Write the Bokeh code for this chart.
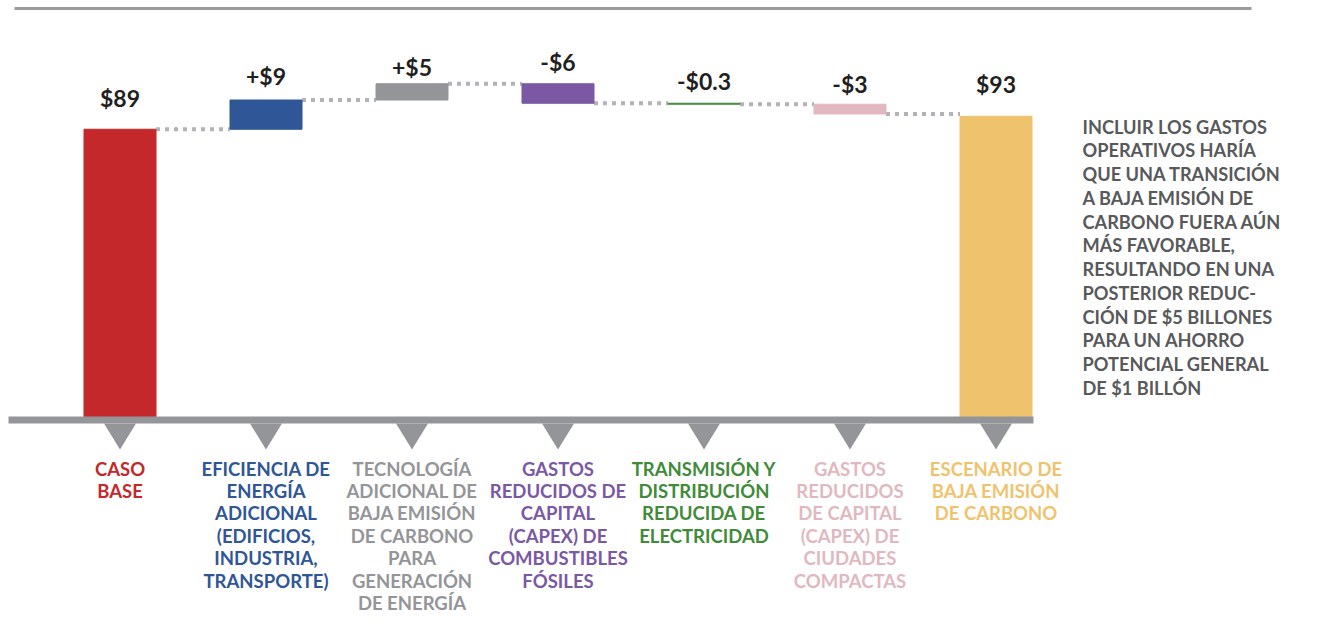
from bokeh.plotting import figure
from bokeh.models import Range1d, ColumnDataSource
from bokeh.embed import file_html
from bokeh.resources import INLINE
from bokeh.core.properties import value

# ---------------- data ----------------
categories = [
    "CASO\nBASE",
    "EFICIENCIA DE\nENERGÍA\nADICIONAL\n(EDIFICIOS,\nINDUSTRIA,\nTRANSPORTE)",
    "TECNOLOGÍA\nADICIONAL DE\nBAJA EMISIÓN\nDE CARBONO\nPARA\nGENERACIÓN\nDE ENERGÍA",
    "GASTOS\nREDUCIDOS DE\nCAPITAL\n(CAPEX) DE\nCOMBUSTIBLES\nFÓSILES",
    "TRANSMISIÓN Y\nDISTRIBUCIÓN\nREDUCIDA DE\nELECTRICIDAD",
    "GASTOS\nREDUCIDOS\nDE CAPITAL\n(CAPEX) DE\nCIUDADES\nCOMPACTAS",
    "ESCENARIO DE\nBAJA EMISIÓN\nDE CARBONO",
]
amounts = [89, 9, 5, -6, -0.3, -3, 93]
is_total = [True, False, False, False, False, False, True]
value_labels = ["$89", "+$9", "+$5", "-$6", "-$0.3", "-$3", "$93"]
colors = ["#C4282A", "#2F5697", "#949598", "#7A58A4", "#3F8B3A", "#E1B8BF", "#EFC36E"]
note_lines = [
    "INCLUIR LOS GASTOS",
    "OPERATIVOS HARÍA",
    "QUE UNA TRANSICIÓN",
    "A BAJA EMISIÓN DE",
    "CARBONO FUERA AÚN",
    "MÁS FAVORABLE,",
    "RESULTANDO EN UNA",
    "POSTERIOR REDUC-",
    "CIÓN DE $5 BILLONES",
    "PARA UN AHORRO",
    "POTENCIAL GENERAL",
    "DE $1 BILLÓN",
]

# ---------------- layout / style ----------------
W, H = 1343, 626
PX_PER_CAT = 146.0
X0_PX = 119.5           # pixel of first category centre
PX_PER_UNIT = 3.25
Y0_PX = 418.0           # pixel of value 0
label_gap_px = [31, 24, 17, 22, 22, 20, 32]

def px_x(px):
    return (px - X0_PX) / PX_PER_CAT

def px_y(py):
    return (Y0_PX - py) / PX_PER_UNIT

p = figure(width=W, height=H, output_backend="svg", toolbar_location=None,
           x_range=Range1d(px_x(0), px_x(W)), y_range=Range1d(px_y(H), px_y(0)),
           min_border=0, min_border_left=0, min_border_right=0,
           min_border_top=0, min_border_bottom=0)
p.axis.visible = False
p.grid.visible = False
p.outline_line_color = None
p.background_fill_color = "white"
p.border_fill_color = "white"

# waterfall geometry
xs = list(range(len(amounts)))
bottoms, tops, levels = [], [], []
running = 0.0
for a, tot in zip(amounts, is_total):
    if tot:
        b, t = 0.0, a
        running = a
    else:
        b, t = running, running + a
        running = running + a
    bottoms.append(min(b, t))
    tops.append(max(b, t))
    levels.append(running)

bw = 72 / PX_PER_CAT
src = ColumnDataSource(dict(x=xs, bottom=bottoms, top=tops, color=colors,
                            lab=value_labels, cat=categories,
                            gap=[-g for g in label_gap_px]))

# connectors
cx0 = [i + bw / 2 for i in xs[:-1]]
cx1 = [i + 1 - bw / 2 for i in xs[:-1]]
cy = levels[:-1]
p.segment(x0=cx0, y0=cy, x1=cx1, y1=cy, line_color="#B1B3B6", line_width=4,
          line_dash="4 5")

# bars
p.vbar(x="x", bottom="bottom", top="top", width=bw, fill_color="color",
       line_color="color", line_width=1, source=src)

# baseline band
p.quad(left=px_x(8), right=px_x(1033), bottom=px_y(423), top=px_y(416),
       fill_color="#939598", line_color=None)

# top rule
p.segment(x0=px_x(14), y0=px_y(8), x1=px_x(1251), y1=px_y(8),
          line_color="#9B9B9B", line_width=3)

# triangles below the baseline
hw = 16 / PX_PER_CAT
tri_x = [[i - hw, i + hw, i] for i in xs]
tri_y = [[px_y(423), px_y(423), px_y(449)] for _ in xs]
p.patches(tri_x, tri_y, fill_color="#939598", line_color=None)

# value labels
p.text(x="x", y="top", text="lab", source=src, y_offset="gap",
       text_align="center", text_baseline="alphabetic",
       text_font=value("Lato"), text_font_style="bold",
       text_font_size="23px", text_color="#231F20")

# category labels
p.text(x="x", y=0, text="cat", source=src, y_offset=39,
       text_align="center", text_baseline="top",
       text_font=value("Lato"), text_font_style="bold",
       text_font_size="18.5px", text_color="color", text_line_height=1.02)

# side note
p.text(x=[px_x(1082)], y=[px_y(115)], text=["\n".join(note_lines)],
       text_align="left", text_baseline="top",
       text_font=value("Lato"), text_font_style="bold",
       text_font_size="18.2px", text_color="#58595B", text_line_height=1.08)

open("out.html", "w").write(file_html(p, INLINE))
